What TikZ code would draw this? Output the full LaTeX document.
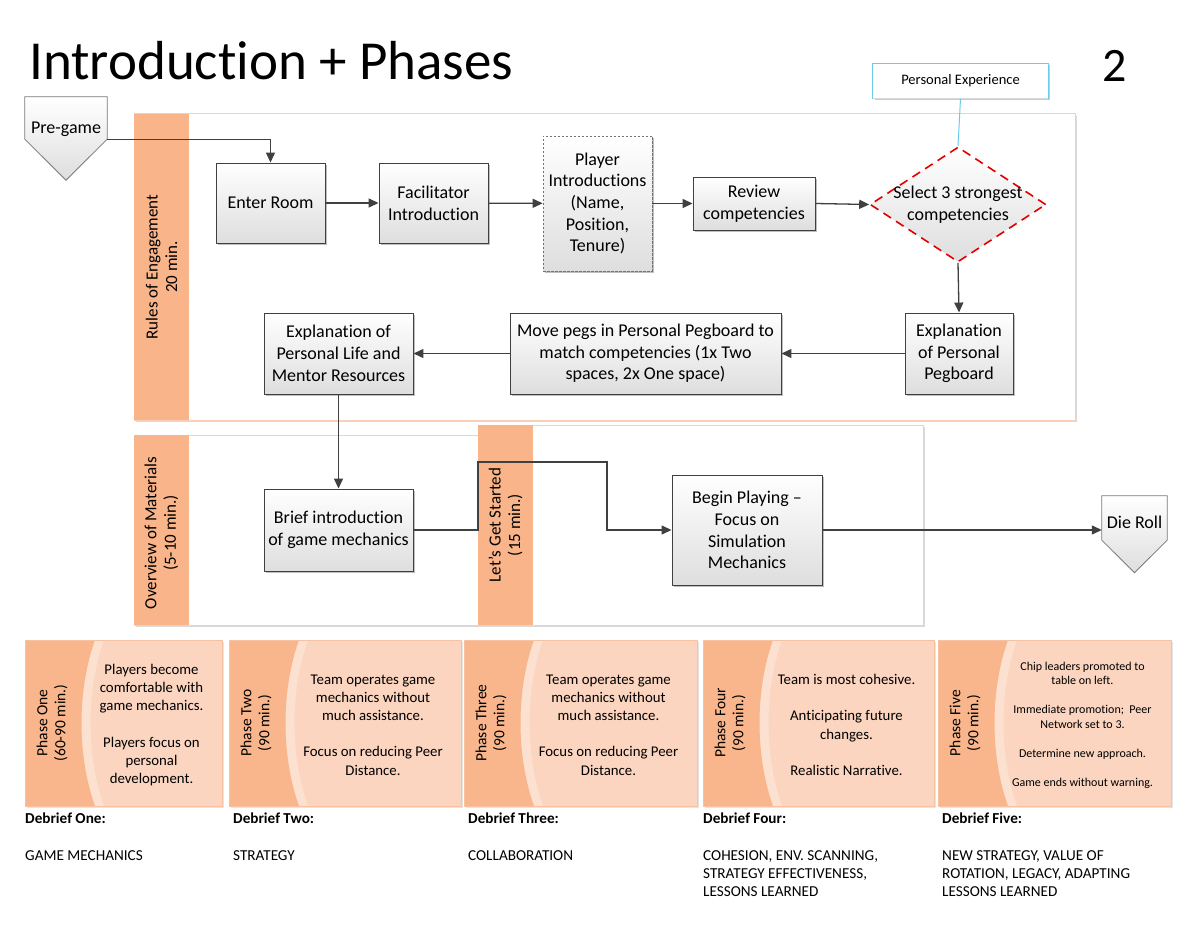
\documentclass[tikz,border=0pt]{standalone}
\usepackage{fontspec}
\setmainfont{Carlito}[Ligatures=NoCommon]
\usetikzlibrary{shapes.geometric,arrows.meta,shadows}
\definecolor{lanefill}{HTML}{F9B48A}
\definecolor{laneline}{HTML}{F8CFB6}
\definecolor{phasedark}{HTML}{F9B58B}
\definecolor{phaselight}{HTML}{FBD5BF}
\definecolor{phaseband}{HTML}{FCE1D1}
\definecolor{phaseborder}{HTML}{F6C2A2}
\definecolor{arrowgray}{HTML}{404040}
\definecolor{peblue}{HTML}{6CCBEB}
\newcommand\phasecard[6]{%
  \fill[black!10] (#1+2,642) rectangle (#2+2,808);
  \fill[phaselight] (#1,640) rectangle (#2,806);
  \fill[phaseband] (#1,640) -- (#1+79,640) .. controls (#1+61,690) and (#1+61,756) .. (#1+79,806) -- (#1,806) -- cycle;
  \fill[phasedark] (#1,640) -- (#1+70,640) .. controls (#1+52,690) and (#1+52,756) .. (#1+70,806) -- (#1,806) -- cycle;
  \draw[phaseborder, line width=0.8pt] (#1,640) rectangle (#2,806);
  \node[phaselab] (#3lab) at (#1+27,723) {#4};
  \node[phasebody, font=#6] (#3body) at ({(#1+60+#2)/2-2},725) {#5};
}
\begin{document}
\begin{tikzpicture}[x=1pt,y=-1pt,
  boxfont/.style={font=\fontsize{18}{21.7}\selectfont},
  proc/.style={boxfont, draw=arrowgray, line width=0.9pt, top color=white, bottom color=black!13,
     align=center, inner sep=2pt,
     drop shadow={shadow xshift=2pt, shadow yshift=-2pt, opacity=0.25, fill=black}},
  conn/.style={draw=arrowgray, line width=1.3pt, -{Triangle[length=10pt,width=9pt]}},
  lanebox/.style={draw=laneline, line width=1pt, fill=white,
     drop shadow={shadow xshift=2pt, shadow yshift=-2pt, opacity=0.15, fill=black}},
  lanelab/.style={rotate=90, align=center, font=\fontsize{17}{19.5}\selectfont},
  phaselab/.style={rotate=90, align=center, font=\fontsize{15.5}{18}\selectfont},
  phasebody/.style={align=center},
  penta/.style={draw=arrowgray!70, line width=0.8pt, top color=white, bottom color=black!13},
  debhead/.style={anchor=north west, inner sep=0pt, font=\bfseries\fontsize{15.2}{18}\selectfont},
  debtext/.style={anchor=north west, inner sep=0pt, align=left, font=\fontsize{15.2}{18}\selectfont}
]
\useasboundingbox (0,0) rectangle (1197,925);
\fill[white] (0,0) rectangle (1197,925);

% title
\node[anchor=base west, inner sep=0pt, font=\fontsize{55}{60}\selectfont] (title) at (29,80) {Introduction + Phases};
\node[anchor=base, inner sep=0pt, font=\fontsize{48}{52}\selectfont] (pagenum) at (1115,82) {2};

% lanes
\draw[lanebox] (134,114) rectangle (1075,420);
\fill[lanefill] (134,114) rectangle (189,420);
\node[lanelab] (rules) at (161.5,267) {Rules of Engagement\\20 min.};

\draw[lanebox] (134,435) rectangle (478,625);
\fill[lanefill] (134,435) rectangle (189,625);
\node[lanelab] (overview) at (161.5,533) {Overview of Materials\\(5-10 min.)};

\draw[lanebox] (478,425) rectangle (923,625);
\fill[lanefill] (478,425) rectangle (533,625);
\node[lanelab] (started) at (505.5,525) {Let’s Get Started\\(15 min.)};

% pre-game
\node[minimum width=82pt, minimum height=42pt, inner sep=0pt] (pregame) at (66,118) {};
\draw[penta] (pregame.north west) -- (pregame.north east) -- (pregame.south east)
   -- ([yshift=-41pt]pregame.south) -- (pregame.south west) -- cycle;
\node[boxfont] (pregametxt) at (66,129) {Pre-game};

% boxes
\node[proc, minimum width=109pt, minimum height=80pt] (enter) at (270.5,203) {Enter Room};
\node[proc, minimum width=109pt, minimum height=80pt] (facil) at (433.5,203) {Facilitator\\Introduction};
\node[proc, draw=black!55, line width=0.7pt, dash pattern=on 2.5pt off 1.5pt, minimum width=109pt, minimum height=135pt] (player) at (597.5,203.5) {Player\\Introductions\\(Name,\\Position,\\Tenure)};
\node[proc, minimum width=122pt, minimum height=53pt] (review) at (754,203.5) {Review\\competencies};
\node[diamond, draw=red!90!black, line width=1.6pt, dash pattern=on 9pt off 6pt, top color=white, bottom color=black!13,
      minimum width=176pt, minimum height=115pt, inner sep=0pt] (select) at (958,204.5) {};
\node[boxfont, align=center] (selecttxt) at (958,204.5) {Select 3 strongest\\competencies};
\node[draw=none, fill=white, minimum width=175pt, minimum height=35pt,
      drop shadow={shadow xshift=1.5pt, shadow yshift=-1.5pt, opacity=0.2, fill=black},
      font=\fontsize{14.5}{17}\selectfont] (persexp) at (960.5,81) {Personal Experience};
\draw[peblue, line width=1pt] (persexp.south west) -- (persexp.north west) -- (persexp.north east) -- (persexp.south east);
\draw[black!15, line width=0.8pt] (persexp.south west) -- (persexp.south east);

\node[proc, minimum width=108pt, minimum height=81pt] (pegboard) at (959,353.5) {Explanation\\of Personal\\Pegboard};
\node[proc, minimum width=271pt, minimum height=81pt] (move) at (645.5,353.5) {Move pegs in Personal Pegboard to\\match competencies (1x Two\\spaces, 2x One space)};
\node[proc, minimum width=149pt, minimum height=81pt] (life) at (338.5,353.5) {Explanation of\\Personal Life and\\Mentor Resources};
\node[proc, minimum width=149pt, minimum height=82pt] (brief) at (338.5,530) {Brief introduction\\of game mechanics};
\node[proc, minimum width=150pt, minimum height=110pt] (begin) at (747,530) {Begin Playing –\\Focus on\\Simulation\\Mechanics};

% die roll
\node[minimum width=65pt, minimum height=44pt, inner sep=0pt] (dieroll) at (1134.5,518) {};
\draw[penta] (dieroll.north west) -- (dieroll.north east) -- (dieroll.south east)
   -- ([yshift=-32.5pt]dieroll.south) -- (dieroll.south west) -- cycle;
\node[boxfont] (dierolltxt) at (1134.5,522) {Die Roll};

% connectors
\draw[conn] (pregame.south east) -| (enter.north);
\draw[conn] (enter) -- (facil);
\draw[conn] (facil) -- (player);
\draw[conn] (player) -- (review);
\draw[conn] (review.east) -- (select.west);
\draw[peblue, line width=1pt] (persexp.south) -- (select.north);
\draw[conn] (select.south) -- (pegboard.north);
\draw[conn] (pegboard) -- (move);
\draw[conn] (move) -- (life);
\draw[conn] (life) -- (brief);
\draw[conn] (brief.east) -- (478,530) -- (478,462) -- (607,462) -- (607,530) -- (begin.west);
\draw[conn] (begin.east) -- (begin.east -| dieroll.west);

% phases
\phasecard{25}{222}{p1}{Phase One\\(60-90 min.)}{Players become\\comfortable with\\game mechanics.\\[18pt]Players focus on\\personal\\development.}{\fontsize{14.8}{18.2}\selectfont}
\phasecard{229}{461}{p2}{Phase Two\\(90 min.)}{Team operates game\\mechanics without\\much assistance.\\[18pt]Focus on reducing Peer\\Distance.}{\fontsize{14.8}{18.2}\selectfont}
\phasecard{464}{697}{p3}{Phase Three\\(90 min.)}{Team operates game\\mechanics without\\much assistance.\\[18pt]Focus on reducing Peer\\Distance.}{\fontsize{14.8}{18.2}\selectfont}
\phasecard{703}{934}{p4}{Phase Four\\(90 min.)}{Team is most cohesive.\\[18pt]Anticipating future\\changes.\\[18pt]Realistic Narrative.}{\fontsize{14.8}{18.2}\selectfont}
\phasecard{938}{1171}{p5}{Phase Five\\(90 min.)}{Chip leaders promoted to\\table on left.\\[14.5pt]Immediate promotion;\ \ Peer\\Network set to 3.\\[14.5pt]Determine new approach.\\[14.5pt]Game ends without warning.}{\fontsize{12}{14.5}\selectfont}

% debriefs
\node[debhead] (d1h) at (25,813) {Debrief One:};
\node[debtext] (d1t) at (25,850) {GAME MECHANICS};
\node[debhead] (d2h) at (233,813) {Debrief Two:};
\node[debtext] (d2t) at (233,850) {STRATEGY};
\node[debhead] (d3h) at (468,813) {Debrief Three:};
\node[debtext] (d3t) at (468,850) {COLLABORATION};
\node[debhead] (d4h) at (703,813) {Debrief Four:};
\node[debtext] (d4t) at (703,850) {COHESION, ENV. SCANNING,\\STRATEGY EFFECTIVENESS,\\LESSONS LEARNED};
\node[debhead] (d5h) at (942,813) {Debrief Five:};
\node[debtext] (d5t) at (942,850) {NEW STRATEGY, VALUE OF\\ROTATION, LEGACY, ADAPTING\\LESSONS LEARNED};
\end{tikzpicture}
\end{document}
